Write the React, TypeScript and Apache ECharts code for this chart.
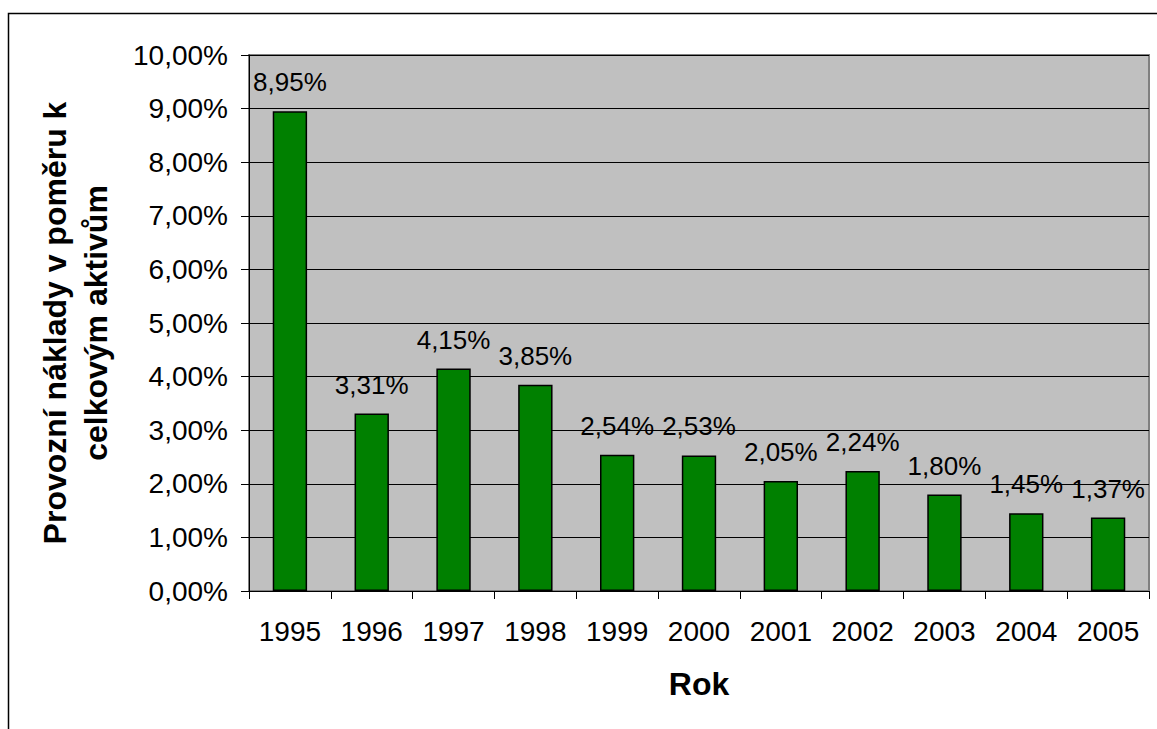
import React, { useEffect, useRef } from "react";
import * as echarts from "echarts";

const years = ["1995", "1996", "1997", "1998", "1999", "2000", "2001", "2002", "2003", "2004", "2005"];
const costRatio = [8.95, 3.31, 4.15, 3.85, 2.54, 2.53, 2.05, 2.24, 1.8, 1.45, 1.37];
const yTitle = "Provozní náklady v poměru k\ncelkovým aktivům";
const xTitle = "Rok";

const FONT = "'Liberation Sans', Arial, sans-serif";
const pct = (v: number) => v.toFixed(2).replace(".", ",") + "%";

export default function App() {
  const ref = useRef<HTMLDivElement>(null);

  useEffect(() => {
    if (!ref.current) return;
    const chart = echarts.init(ref.current, null, { renderer: "svg" });
    chart.setOption({
      animation: false,
      backgroundColor: "#ffffff",
      textStyle: { fontFamily: FONT },
      graphic: [
        {
          type: "rect",
          shape: { x: 8.5, y: 13.5, width: 1300, height: 900 },
          style: { fill: "none", stroke: "#000000", lineWidth: 1.5 },
          silent: true,
        },
      ],
      grid: {
        left: 249,
        top: 55,
        right: 8,
        bottom: 138,
        show: true,
        backgroundColor: "#C0C0C0",
        borderColor: "#808080",
        borderWidth: 2,
      },
      xAxis: {
        type: "category",
        data: years,
        name: xTitle,
        nameLocation: "middle",
        nameGap: 77,
        nameTextStyle: { fontSize: 32, fontWeight: "bold", color: "#000", fontFamily: FONT },
        axisLine: { lineStyle: { color: "#000", width: 1 } },
        axisTick: { show: true, length: 8, lineStyle: { color: "#000" } },
        axisLabel: { fontSize: 28, color: "#000", margin: 26, fontFamily: FONT },
        splitLine: { show: false },
      },
      yAxis: {
        type: "value",
        min: 0,
        max: 10,
        interval: 1,
        name: yTitle,
        nameLocation: "middle",
        nameRotate: 90,
        nameGap: 133,
        nameTextStyle: {
          fontSize: 32,
          fontWeight: "bold",
          color: "#000",
          lineHeight: 41,
          align: "center",
          fontFamily: FONT,
        },
        axisLine: { show: true, lineStyle: { color: "#000", width: 1 } },
        axisTick: { show: true, length: 8, lineStyle: { color: "#000" } },
        axisLabel: { fontSize: 28, color: "#000", margin: 21, formatter: pct, fontFamily: FONT },
        splitLine: { show: true, lineStyle: { color: "#000", width: 1 } },
      },
      series: [
        {
          type: "bar",
          data: costRatio,
          barCategoryGap: "58%",
          itemStyle: { color: "#008000", borderColor: "#000", borderWidth: 1.5 },
          label: {
            show: true,
            position: "top",
            distance: 16,
            fontSize: 26,
            color: "#000",
            fontFamily: FONT,
            formatter: (p: any) => pct(p.value),
          },
        },
      ],
    });
    return () => chart.dispose();
  }, []);

  return (
    <div
      ref={ref}
      style={{ position: "fixed", left: 0, top: 0, width: 1157, height: 729 }}
    />
  );
}
